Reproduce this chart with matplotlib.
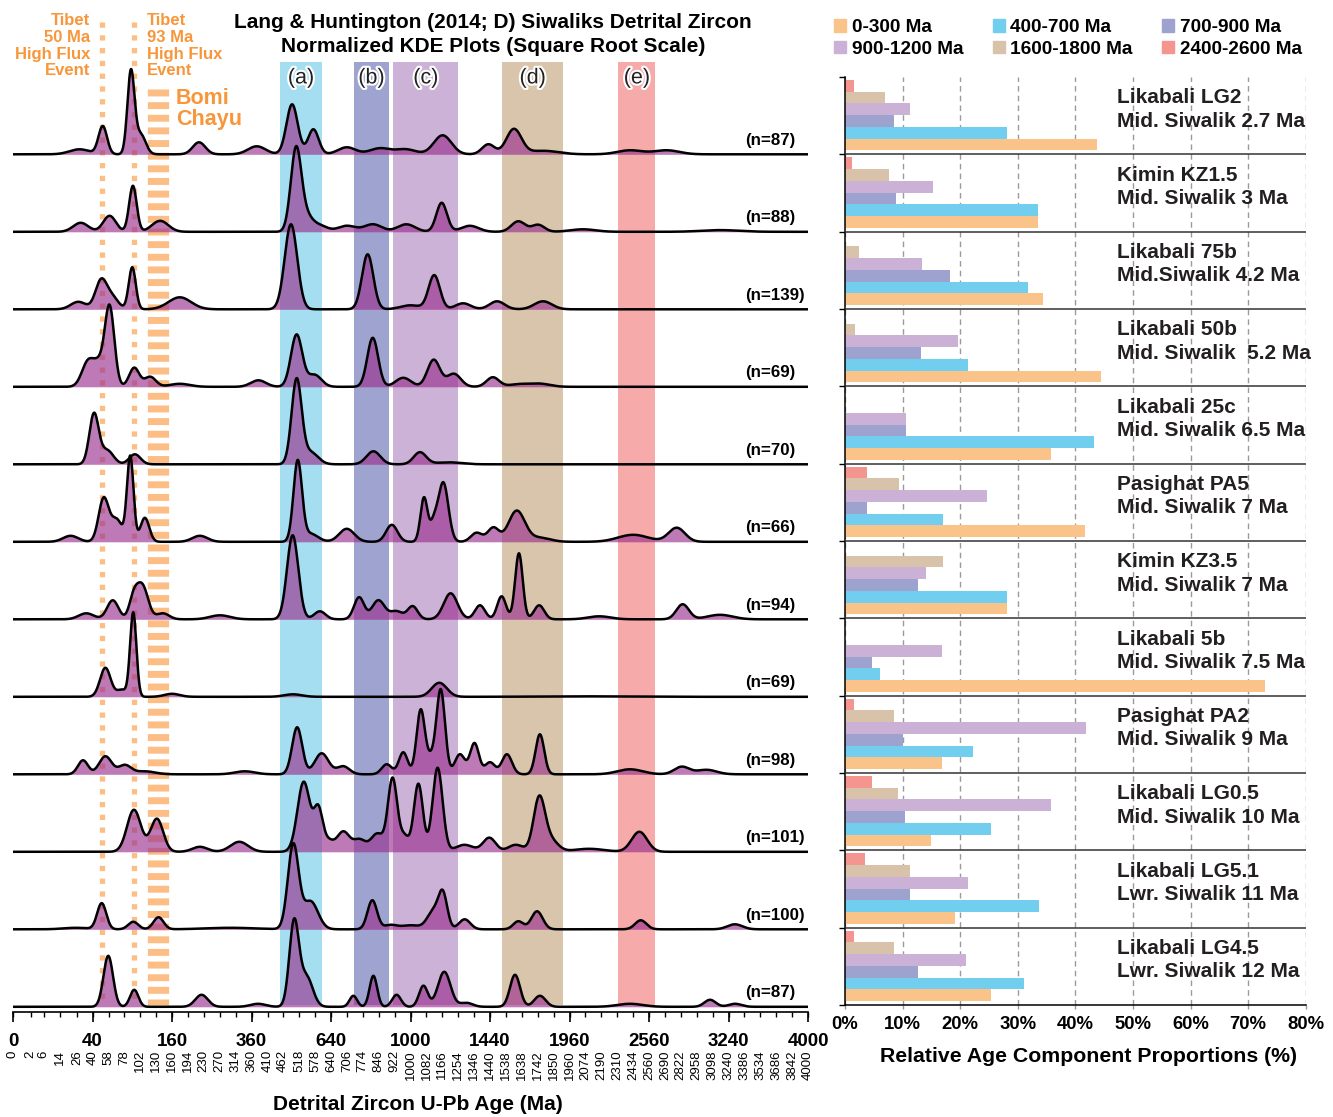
import numpy as np
import matplotlib
matplotlib.use("Agg")
import matplotlib.pyplot as plt
import matplotlib.patheffects as pe
from matplotlib.patches import Patch

plt.rcParams['font.family'] = ['Liberation Sans', 'DejaVu Sans']
plt.rcParams['lines.scale_dashes'] = False

# KDE peak components for each sample, top to bottom:
# (age in Ma, peak height, bandwidth on the sqrt(age) scale)
lg2_peaks = [(28, 5, 0.8), (51, 28, 0.34), (88, 82, 0.28), (103, 20, 0.4), (219, 12, 0.5),
             (376, 8, 0.7), (493, 50, 0.45), (571, 25, 0.42), (705, 7, 0.7), (852, 6, 0.8),
             (975, 5, 0.8), (1168, 19, 0.7), (1430, 10, 0.5), (1588, 25, 0.6), (1780, 3.5, 1.2),
             (2409, 4, 1.0), (2705, 4, 1.0)]
kz15_peaks = [(29, 9, 0.6), (59, 16, 0.5), (91, 46, 0.3), (137, 11, 0.65), (507, 82, 0.42),
              (545, 14, 0.5), (596, 6, 0.6), (705, 6, 0.7), (820, 7.5, 0.7), (979, 7.5, 0.7),
              (1163, 29, 0.42), (1321, 6, 0.7), (1616, 10.5, 0.55), (1745, 7, 0.5),
              (2056, 2.5, 1.0), (3163, 1.7, 1.5)]
b75_peaks = [(27, 7.5, 0.6), (49, 28, 0.45), (62, 12, 0.5), (90, 42, 0.28), (176, 12, 0.9),
             (489, 85, 0.5), (796, 55, 0.45), (1000, 4, 0.8), (1123, 34, 0.45), (1282, 6, 0.6),
             (1483, 8, 0.6), (1778, 8, 0.7)]
b50_peaks = [(36, 26, 0.5), (47, 18, 0.4), (59, 80, 0.38), (93, 19, 0.4), (119, 10, 0.45),
             (176, 3, 0.8), (381, 6.5, 0.6), (509, 52, 0.45), (575, 12, 0.55), (819, 49, 0.43),
             (964, 9, 0.6), (1120, 27, 0.5), (1230, 13, 0.55), (1457, 9.5, 0.5), (1620, 2.5, 0.8),
             (1757, 3, 0.8)]
c25_peaks = [(41.5, 50, 0.37), (56, 14, 0.5), (94, 10, 0.45), (509, 84, 0.4), (560, 12, 0.6),
             (822, 13, 0.55), (1048, 12, 0.5), (1200, 2, 1.0)]
pa5_peaks = [(21, 6, 0.6), (52, 43, 0.4), (68, 22, 0.45), (87, 85, 0.26), (110, 24, 0.35),
             (221, 6, 0.6), (513, 80, 0.34), (560, 8, 0.6), (705, 13, 0.6), (908, 17, 0.45),
             (1069, 44, 0.28), (1120, 17, 0.3), (1172, 59, 0.4), (1360, 9, 0.45), (1460, 14, 0.45),
             (1606, 31, 0.65), (1760, 4, 0.8), (2434, 7, 1.2), (2788, 14, 0.65)]
kz35_peaks = [(34, 6, 0.6), (63, 19, 0.45), (92, 20, 0.35), (106, 33, 0.45), (142, 6, 0.5),
              (271, 4, 0.8), (495, 84, 0.45), (596, 8, 0.45), (758, 22, 0.4), (845, 19, 0.5),
              (930, 8, 0.5), (1011, 13, 0.4), (1212, 26, 0.55), (1380, 14, 0.4), (1511, 23, 0.35),
              (1620, 66, 0.3), (1752, 14, 0.4), (2175, 3, 0.9), (2838, 15, 0.5), (3163, 4.5, 1.0)]
b5_peaks = [(54, 29, 0.42), (75, 7, 0.4), (91.5, 84, 0.25), (160, 3, 0.6), (496, 2.5, 0.7),
            (1150, 14, 0.6), (2000, 0.5, 3.0)]
pa2_peaks = [(31, 14, 0.4), (54, 18, 0.5), (79, 9, 0.5), (110, 3, 0.8), (340, 3, 0.8),
             (511, 47, 0.4), (603, 21, 0.55), (690, 8, 0.5), (884, 10, 0.4), (964, 22, 0.35),
             (1052, 64, 0.33), (1105, 15, 0.35), (1158, 84, 0.34), (1264, 20, 0.4), (1348, 31, 0.35),
             (1440, 12, 0.4), (1544, 20, 0.4), (1757, 40, 0.34), (2409, 5, 1.0), (2830, 7.5, 0.6),
             (3044, 4.5, 0.8)]
lg05_peaks = [(92.6, 42, 0.55), (131, 33, 0.5), (221, 5, 0.6), (324, 10, 0.7), (535, 70, 0.5),
              (590, 41, 0.35), (630, 10, 0.4), (690, 20, 0.5), (760, 12, 0.5), (840, 18, 0.5),
              (912, 73, 0.37), (970, 15, 0.35), (1040, 68, 0.36), (1141, 84, 0.4), (1290, 7, 0.7),
              (1436, 14, 0.5), (1600, 7, 0.6), (1752, 52, 0.45), (1826, 12, 0.6), (2100, 3, 1.2),
              (2483, 20, 0.62)]
lg51_peaks = [(25, 1.5, 1.0), (49.8, 26, 0.36), (91.5, 7.5, 0.4), (134, 12, 0.4), (300, 1.5, 2.0),
              (497, 84, 0.43), (560, 28, 0.6), (817, 29, 0.38), (900, 4, 0.5), (1000, 4, 0.8),
              (1120, 18, 0.5), (1170, 33, 0.35), (1291, 10, 0.45), (1616, 8, 0.4), (1738, 18, 0.45),
              (2494, 9, 0.45), (3298, 5, 0.6)]
lg45_peaks = [(57.4, 51, 0.38), (93, 17, 0.33), (225, 12, 0.5), (380, 3, 0.6), (500, 84, 0.38),
              (545, 30, 0.5), (733, 11, 0.3), (822, 31, 0.3), (931, 12, 0.35), (1066, 21, 0.35),
              (1177, 35, 0.5), (1300, 4, 0.5), (1595, 32, 0.4), (1757, 11, 0.45), (2409, 3, 1.0),
              (3075, 7, 0.45), (3300, 3, 0.5)]

kde_peaks = [lg2_peaks, kz15_peaks, b75_peaks, b50_peaks, c25_peaks, pa5_peaks,
             kz35_peaks, b5_peaks, pa2_peaks, lg05_peaks, lg51_peaks, lg45_peaks]
n_grains = [87, 88, 139, 69, 70, 66, 94, 69, 98, 101, 100, 87]

sample_names = ["Likabali LG2", "Kimin KZ1.5", "Likabali 75b", "Likabali 50b", "Likabali 25c",
                "Pasighat PA5", "Kimin KZ3.5", "Likabali 5b", "Pasighat PA2", "Likabali LG0.5",
                "Likabali LG5.1", "Likabali LG4.5"]
sample_units = ["Mid. Siwalik 2.7 Ma", "Mid. Siwalik 3 Ma", "Mid.Siwalik 4.2 Ma",
                "Mid. Siwalik  5.2 Ma", "Mid. Siwalik 6.5 Ma", "Mid. Siwalik 7 Ma",
                "Mid. Siwalik 7 Ma", "Mid. Siwalik 7.5 Ma", "Mid. Siwalik 9 Ma",
                "Mid. Siwalik 10 Ma", "Lwr. Siwalik 11 Ma", "Lwr. Siwalik 12 Ma"]

# relative age component proportions (%)
component_labels = ["0-300 Ma", "400-700 Ma", "700-900 Ma", "900-1200 Ma", "1600-1800 Ma", "2400-2600 Ma"]
component_colors = ["#FAC389", "#71CEEE", "#9EA2CF", "#CCB1D6", "#D8C3AA", "#F4958F"]
pct_0_300 = [43.8, 33.6, 34.3, 44.5, 35.8, 41.6, 28.2, 72.9, 16.9, 15.0, 19.1, 25.4]
pct_400_700 = [28.2, 33.6, 31.8, 21.4, 43.3, 17.0, 28.2, 6.1, 22.3, 25.4, 33.7, 31.1]
pct_700_900 = [8.5, 8.9, 18.3, 13.2, 10.6, 3.8, 12.7, 4.7, 10.0, 10.4, 11.3, 12.7]
pct_900_1200 = [11.3, 15.3, 13.4, 19.6, 10.6, 24.7, 14.1, 16.9, 41.9, 35.7, 21.4, 21.0]
pct_1600_1800 = [7.0, 7.7, 2.4, 1.7, 0, 9.4, 17.0, 0, 8.5, 9.2, 11.3, 8.5]
pct_2400_2600 = [1.6, 1.3, 0, 0, 0, 3.8, 0, 0, 1.6, 4.7, 3.5, 1.6]
proportions = [pct_0_300, pct_400_700, pct_700_900, pct_900_1200, pct_1600_1800, pct_2400_2600]

band_labels = ["(a)", "(b)", "(c)", "(d)", "(e)"]
band_ranges = [(450, 605), (735, 895), (915, 1255), (1515, 1915), (2320, 2610)]
band_colors = ["#A5DEF0", "#9FA3D0", "#CDB2D7", "#D9C4AC", "#F6AAAA"]

tibet_events = [50, 93]
bomi_chayu_age = 133

major_ticks = [0, 40, 160, 360, 640, 1000, 1440, 1960, 2560, 3240, 4000]
minor_ticks = [0, 2, 6, 14, 26, 40, 58, 78, 102, 130, 160, 194, 230, 270, 314, 360, 410, 462,
               518, 578, 640, 706, 774, 846, 922, 1000, 1082, 1166, 1254, 1346, 1440, 1538,
               1638, 1742, 1850, 1960, 2074, 2190, 2310, 2434, 2560, 2690, 2822, 2958, 3098,
               3240, 3386, 3534, 3686, 3842, 4000]

ORANGE = "#F7963A"
DOT = "#FDBE85"
FILL = "#992F8D"

W, H = 1333, 1117
fig = plt.figure(figsize=(W / 100, H / 100), dpi=100)


def fx(px):
    return px / W


def fy(py):
    return 1 - py / H


# ---------------- left: stacked KDE plots ----------------
n_rows = len(kde_peaks)
row_px = 77.5
ax = fig.add_axes([fx(13), fy(1012), 795 / W, 1012 / H])
ax.set_xscale('function', functions=(lambda v: np.sqrt(np.clip(v, 0, None)), np.square))
ax.set_xlim(0, 4000)
ax.set_ylim(-(1012 - 1006.8) / row_px, n_rows - 1 + 154.3 / row_px)

xt = ax.get_xaxis_transform()
for (lo, hi), col, lab in zip(band_ranges, band_colors, band_labels):
    ax.axvspan(lo, hi, ymin=0.007, ymax=0.939, color=col, lw=0, zorder=1)
    mid = ((np.sqrt(lo) + np.sqrt(hi)) / 2) ** 2
    ax.text(mid, 0.923, lab, transform=xt, ha='center', va='center', fontsize=15.5,
            color='#222222', zorder=6,
            path_effects=[pe.withStroke(linewidth=3, foreground='white')])

for t in tibet_events:
    ax.plot([t, t], [0.978, 0.007], transform=xt, color=DOT, lw=3.8,
            dashes=(3.8, 5.4), dash_capstyle='butt', zorder=1.5)
ax.plot([bomi_chayu_age, bomi_chayu_age], [0.912, 0.007], transform=xt, color=DOT,
        lw=15.3, dashes=(5.0, 4.1), dash_capstyle='butt', zorder=1.5)

u = np.linspace(0, np.sqrt(4000), 3000)
ages = u ** 2
for i, (peaks, n) in enumerate(zip(kde_peaks, n_grains)):
    dens = np.zeros_like(u)
    for age, h, bw in peaks:
        dens += h * np.exp(-0.5 * ((u - np.sqrt(age)) / bw) ** 2)
    base = n_rows - 1 - i
    y = base + dens / row_px
    ax.fill_between(ages, base, y, color=FILL, alpha=0.64, lw=0, zorder=2)
    ax.plot(ages, y, color='black', lw=1.8, zorder=3 + i * 0.01, solid_capstyle='butt')
    ax.text(3391, base + 14 / row_px, f"(n={n})", ha='left', va='center',
            fontsize=12.2, fontweight='bold', zorder=6)

ax.set_xticks(major_ticks)
ax.set_xticklabels([str(t) for t in major_ticks], fontsize=13.5, fontweight='bold')
ax.set_xticks(minor_ticks, minor=True)
ax.set_xticklabels([str(t) for t in minor_ticks], minor=True)
ax.xaxis.remove_overlapping_locs = False
ax.tick_params(axis='x', which='major', length=7, width=1.2, pad=8)
ax.tick_params(axis='x', which='minor', length=3.5, width=1.0, pad=24,
               labelrotation=90, labelsize=9.5)
ax.set_yticks([])
for s in ['left', 'right', 'top']:
    ax.spines[s].set_visible(False)
ax.spines['bottom'].set_linewidth(1.2)
ax.patch.set_alpha(0)

fig.text(fx(418), fy(1104), "Detrital Zircon U-Pb Age (Ma)", ha='center', va='center',
         fontsize=15, fontweight='bold')

fig.text(fx(493), fy(22), "Lang & Huntington (2014; D) Siwaliks Detrital Zircon",
         ha='center', va='center', fontsize=15, fontweight='bold')
fig.text(fx(493), fy(46), "Normalized KDE Plots (Square Root Scale)",
         ha='center', va='center', fontsize=15, fontweight='bold')

for j, line in enumerate(["Tibet", "50 Ma", "High Flux", "Event"]):
    fig.text(fx(90), fy(20.7 + 16.7 * j), line, ha='right', va='center',
             fontsize=12, fontweight='bold', color=ORANGE)
for j, line in enumerate(["Tibet", "93 Ma", "High Flux", "Event"]):
    fig.text(fx(147), fy(20.7 + 16.7 * j), line, ha='left', va='center',
             fontsize=12, fontweight='bold', color=ORANGE)
for j, line in enumerate(["Bomi", "Chayu"]):
    fig.text(fx(176), fy(99 + 20.5 * j), line, ha='left', va='center',
             fontsize=15.5, fontweight='bold', color=ORANGE)

# ---------------- right: age component proportions ----------------
axr = fig.add_axes([fx(845), fy(1005), 460.7 / W, 928 / H])
axr.set_xlim(0, 80)
axr.set_ylim(0, n_rows)
bar_h = 0.152
for k, (vals, col, lab) in enumerate(zip(proportions, component_colors, component_labels)):
    ys = [n_rows - 1 - g + 0.05 + (k + 0.5) * bar_h for g in range(n_rows)]
    axr.barh(ys, vals, height=bar_h, color=col, lw=0, zorder=2, label=lab)

axr.hlines(range(1, n_rows), 0, 80, color='#333333', lw=1.1, zorder=3)
axr.set_xticks(range(0, 90, 10))
axr.set_xticklabels([f"{v}%" for v in range(0, 90, 10)], fontsize=13.3, fontweight='bold')
axr.xaxis.grid(True, linestyle=(0, (4, 3)), color='#9A9A9A', lw=1.0)
axr.set_axisbelow(True)
axr.set_yticks(range(0, n_rows + 1))
axr.set_yticklabels([])
axr.tick_params(axis='y', length=4, width=1.0)
axr.tick_params(axis='x', length=3, width=1.0, pad=5, colors='#999999', labelcolor='black')
for s in ['right', 'top']:
    axr.spines[s].set_visible(False)
axr.spines['left'].set_linewidth(1.1)
axr.spines['bottom'].set_linewidth(1.1)

for g, (name, unit) in enumerate(zip(sample_names, sample_units)):
    axr.text(47.2, n_rows - 1 - g + 0.58, f"{name}\n{unit}", ha='left', va='center',
             fontsize=15, fontweight='bold', color='#231F20', linespacing=1.3, zorder=5)

fig.text(fx(1089), fy(1056), "Relative Age Component Proportions (%)", ha='center',
         va='center', fontsize=15.3, fontweight='bold')

order = [0, 3, 1, 4, 2, 5]
handles = [Patch(color=component_colors[k], label=component_labels[k]) for k in order]
fig.legend(handles=handles, ncol=3, loc='upper left', bbox_to_anchor=(fx(834), fy(19)),
           frameon=False, prop={'weight': 'bold', 'size': 13.7}, handlelength=0.63,
           handleheight=0.63, handletextpad=0.3, columnspacing=1.55, labelspacing=0.25,
           borderaxespad=0, borderpad=0)

fig.savefig("out.png", dpi=100)
